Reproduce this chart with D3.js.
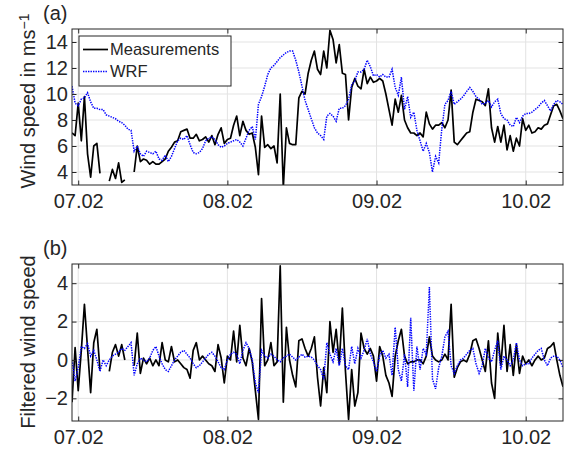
<!DOCTYPE html>
<html lang="en">
<head>
<meta charset="UTF-8">
<title>Wind speed: measurements vs WRF</title>
<script src="https://d3js.org/d3.v7.min.js"></script>
<style>
  body { margin: 0; background: #fff; }
  svg text { font-family: "Liberation Sans", Arial, sans-serif; fill: #262626; }
  .grid line { stroke: #e3e3e3; stroke-width: 1; }
  .tick line { stroke: #262626; }
  .meas { fill: none; stroke: #000; stroke-width: 1.7; stroke-linejoin: round; }
  .wrf { fill: none; stroke: #0000ff; stroke-width: 1.5; stroke-dasharray: 1.4 1.1; }
</style>
</head>
<body>
<svg width="577" height="449"></svg>
<script>
// half-hourly samples, first one at 06.02 23:00
const startTime = new Date(2015, 1, 6, 23, 0);
const stepMinutes = 30;
const endTime = new Date(2015, 1, 10, 6, 0);
const dayTicks = [new Date(2015, 1, 7), new Date(2015, 1, 8), new Date(2015, 1, 9), new Date(2015, 1, 10)];

// (a) wind speed in m/s
const measA = [
  7.0, 6.8, 9.3, 6.4, 9.8, 5.4, 3.6, 6.0, 6.2, 3.9,
  null, null, 3.3, 4.2, 3.5, 4.7, 3.2, 3.4, null, null,
  4.0, 6.0, 4.8, 5.0, 4.9, 4.6, 4.8, 4.6, 4.6, 4.8,
  5.0, 5.6, 5.9, 6.3, 6.4, 7.1, 7.2, 7.3, 6.6, 6.6,
  6.9, 6.4, 6.5, 6.7, 6.3, 6.8, 6.1, 6.9, 7.4, 6.2,
  6.5, 6.6, 7.6, 8.3, 6.8, 7.9, 7.2, 6.9, 7.0, 5.9,
  3.8, 8.3, 5.9, 6.1, 5.8, 6.0, 4.7, 10.0, 2.8, 7.4,
  6.2, 6.1, 6.1, 9.7, 10.2, 10.0, 11.6, 12.6, 13.3, 11.9,
  11.5, 13.3, 12.0, 14.9, 14.2, 12.4, 13.8, 11.6, 11.5, 8.0,
  10.5, 11.2, 10.6, 10.4, 11.9, 10.8, 11.3, 10.9, 11.0, 11.2,
  11.0, 10.0, 8.8, 7.6, 9.6, 8.6, 9.9, 8.0, 7.4, 7.0,
  7.0, 6.8, 7.0, 6.7, 8.6, 7.7, 7.3, 7.6, 7.6, 7.8,
  7.4, 8.0, 10.3, 6.3, 6.1, 6.4, 6.7, 7.0, 7.1, 8.6,
  9.6, 9.5, 9.4, 9.1, 10.4, 7.4, 6.3, 7.5, 6.3, 7.6,
  5.7, 6.8, 5.6, 6.6, 6.0, 8.1, 7.2, 7.6, 7.0, 7.1,
  7.4, 7.3, 7.6, 7.7, 8.4, 9.1, 9.2, 8.7, 8.1
];
const wrfA = [
  10.6, 9.3, 9.1, 9.6, 9.7, 10.1, 9.4, 8.9, 8.9, 8.8,
  8.8, 8.4, 8.3, 8.2, 8.1, 7.9, 7.8, 7.6, 7.3, 7.2,
  5.6, 6.0, 5.4, 5.2, 5.6, 5.5, 5.4, 5.6, 5.0, 4.9,
  5.3, 4.8, 5.2, 5.8, 6.4, 6.6, 6.5, 6.8, 6.1, 5.5,
  5.4, 5.5, 5.8, 6.4, 6.6, 6.7, 6.5, 6.1, 5.9, 6.0,
  6.2, 6.3, 6.4, 6.5, 6.3, 6.0, 6.6, 7.2, 7.5, 6.5,
  9.2, 9.8, 10.6, 11.5, 12.0, 12.2, 12.5, 12.8, 13.0, 13.2,
  13.3, 13.3, 12.6, 11.7, 10.6, 9.5, 8.8, 8.1, 7.4, 7.0,
  6.8, 6.5, 8.3, 8.5, 8.3, 7.9, 8.9, 8.9, 9.1, 9.6,
  10.7, 11.0, 11.7, 11.7, 11.9, 12.6, 12.1, 11.4, 11.5, 11.3,
  11.5, 11.3, 11.3, 11.9, 10.5, 9.9, 11.3, 8.8, 9.8, 8.2,
  8.6, 7.2, 6.4, 5.6, 6.2, 5.5, 4.0, 5.2, 4.7, 7.3,
  9.2, 9.5, 10.2, 9.2, 9.4, 9.6, 9.85, 10.2, 10.5, 10.2,
  9.8, 9.6, 9.2, 9.3, 9.5, 9.0, 9.4, 9.6, 8.5, 8.1,
  8.0, 7.6, 7.5, 8.2, 7.8, 8.3, 8.5, 8.5, 8.6, 8.8,
  9.0, 9.3, 9.5, 9.1, 8.7, 9.2, 9.5, 9.4, 9.2
];

// (b) filtered wind speed
const measB = [
  -2.2, 0.65, -1.6, 0.5, 2.9, 0.6, -1.7, 0.9, 1.6, -0.5,
  null, null, -0.6, 0.4, 0.8, 0.2, 0.8, 0.0, null, null,
  -0.3, 1.4, -0.7, 0.1, -0.2, 0.1, -0.3, 0.0, -0.3, 0.9,
  0.0, -0.1, 0.7, -0.1, 0.0, -0.2, -0.4, -0.5, -0.95, 0.5,
  0.9, 0.0, 0.2, 0.0, -0.2, -0.3, -0.6, 0.8, 0.1, -1.2,
  0.2, 0.0, 1.5, -0.1, 1.8, 0.1, -0.3, 0.6, -0.1, -1.6,
  -3.1, 3.2, -0.3, 0.0, 0.9, -0.3, -0.1, 4.9, -2.2, 1.7,
  0.0, -0.8, -1.4, 1.0, 1.1, 0.6, 0.2, 0.6, 1.2, -0.9,
  -2.4, -0.4, -1.7, 2.0, 0.4, 1.6, -0.2, 2.7, -0.6, -3.1,
  -0.5, -2.4, -1.7, 1.4, 0.6, 0.3, 0.6, 0.2, -1.1, 0.7,
  0.2, -0.8, -1.2, -1.9, 0.2, 1.0, 1.6, 0.2, -0.2, -0.1,
  -0.1, 0.0, 0.0, -0.2, 0.2, 1.2, 0.2, 0.0, -0.1, 0.0,
  0.3, 0.0, 2.9, -0.9, -0.4, -0.1, 0.0, -0.1, 0.3, 1.0,
  1.1, 0.6, 0.0, -0.6, 1.0, -1.2, -2.0, 1.4, -0.3, 1.8,
  -0.6, 0.8, -0.8, 0.8, -0.7, 0.2, -0.2, 0.0, -0.3, 0.0,
  0.2, 0.0, 0.1, 0.6, 0.7, 0.9, 0.0, -0.8, -1.4
];
const wrfB = [
  0.0, -1.1, -0.4, 0.7, 0.6, 0.85, 0.2, 0.5, 0.0, -0.6,
  0.0, -0.3, 0.0, 0.2, 0.3, 0.4, 0.6, 0.5, 0.7, 0.9,
  -0.8, -0.2, 0.1, 0.0, -0.1, 0.1, 0.5, 0.7, 0.2, -0.2,
  -0.5, -0.6, -0.3, 0.0, 0.2, 0.4, 0.5, 0.3, 0.1, -0.2,
  -0.4, -0.3, -0.1, 0.1, 0.3, 0.4, 0.2, -0.1, -0.4, -0.5,
  0.0, 0.3, 0.4, 0.3, -0.2, 0.5, 0.9, 0.6, 0.0, -1.2,
  -1.7, 0.5, 0.2, 0.1, 0.3, 0.2, 0.0, -0.1, 0.1, 0.2,
  0.3, 0.15, 0.0, 0.15, 0.3, 0.15, 0.2, 0.15, 0.0, -0.3,
  -0.5, -1.0, 0.9, 0.3, -0.1, 0.6, -0.3, 0.6, -0.3, -0.5,
  0.7, -0.2, 0.6, 0.1, 0.5, 1.1, 0.3, -0.1, -0.6, 0.2,
  0.5, 0.1, 0.3, -0.8, 1.7, -0.5, -1.1, 0.3, -1.4, 2.2,
  -1.6, 0.7, -0.5, 0.6, 0.3, 3.8, -1.0, -1.5, -0.4, 0.2,
  1.2, 1.5, -0.3, -0.7, -0.3, 0.0, 0.1, 0.3, 0.5, 0.6,
  -0.2, -0.7, -0.3, 0.6, 0.1, -0.1, 0.5, 1.0, -0.5, 0.2,
  0.0, -0.3, 0.0, 0.9, 0.0, -0.3, -0.2, -0.2, 0.1, 0.3,
  0.5, 0.6, 0.0, -0.3, 0.1, 0.2, 0.2, 0.0, -0.4
];

const yTicksA = [4, 6, 8, 10, 12, 14];
const yTicksB = [-2, 0, 2, 4];
const legendLabels = ["Measurements", "WRF"];

const svg = d3.select("svg");
const left = 72, right = 563;

const x = d3.scaleTime().domain([startTime, endTime]).range([left, right]);
const timeOf = i => d3.timeMinute.offset(startTime, i * stepMinutes);

function drawPanel(cfg) {
    const y = d3.scaleLinear().domain(cfg.domain).range([cfg.bottom, cfg.top]);
    const g = svg.append("g");

    // grid
    const grid = g.append("g").attr("class", "grid");
    grid.selectAll(".gx").data(dayTicks).join("line")
        .attr("x1", d => x(d)).attr("x2", d => x(d))
        .attr("y1", cfg.top).attr("y2", cfg.bottom);
    grid.selectAll(".gy").data(cfg.ticks).join("line")
        .attr("x1", left).attr("x2", right)
        .attr("y1", d => y(d)).attr("y2", d => y(d));

    // clipped lines
    g.append("clipPath").attr("id", cfg.id)
        .append("rect").attr("x", left).attr("y", cfg.top)
        .attr("width", right - left).attr("height", cfg.bottom - cfg.top);

    const line = d3.line()
        .defined(d => d != null)
        .x((d, i) => x(timeOf(i)))
        .y(d => y(d));

    const lines = g.append("g").attr("clip-path", `url(#${cfg.id})`);
    lines.append("path").attr("class", "meas").attr("d", line(cfg.meas));
    lines.append("path").attr("class", "wrf").attr("d", line(cfg.wrf));

    // axes, ticks pointing inwards on all four sides
    const fmt = d3.timeFormat("%d.%m");
    g.append("g").attr("transform", `translate(0,${cfg.bottom})`)
        .call(d3.axisBottom(x).tickValues(dayTicks).tickFormat(fmt).tickSizeInner(-4.5).tickSizeOuter(0).tickPadding(9))
        .call(a => a.select(".domain").remove())
        .selectAll("text").attr("font-size", 20).attr("fill", "#262626");
    g.append("g").attr("transform", `translate(0,${cfg.top})`)
        .call(d3.axisTop(x).tickValues(dayTicks).tickFormat("").tickSizeInner(-4.5).tickSizeOuter(0))
        .call(a => a.select(".domain").remove());
    g.append("g").attr("transform", `translate(${left},0)`)
        .call(d3.axisLeft(y).tickValues(cfg.ticks).tickSizeInner(-4.5).tickSizeOuter(0).tickPadding(4))
        .call(a => a.select(".domain").remove())
        .selectAll("text").attr("font-size", 20).attr("fill", "#262626");
    g.append("g").attr("transform", `translate(${right},0)`)
        .call(d3.axisRight(y).tickValues(cfg.ticks).tickFormat("").tickSizeInner(-4.5).tickSizeOuter(0))
        .call(a => a.select(".domain").remove());

    g.append("rect")
        .attr("x", left).attr("y", cfg.top)
        .attr("width", right - left).attr("height", cfg.bottom - cfg.top)
        .attr("fill", "none").attr("stroke", "#262626").attr("stroke-width", 1);

    // panel letter
    svg.append("text").attr("x", 43).attr("y", cfg.top - 9)
        .attr("font-size", 20).text(cfg.letter);

    return y;
}

drawPanel({ id: "clipA", top: 29, bottom: 185, domain: [3, 15], ticks: yTicksA, meas: measA, wrf: wrfA, letter: "(a)" });
drawPanel({ id: "clipB", top: 264, bottom: 421, domain: [-3.18, 5], ticks: yTicksB, meas: measB, wrf: wrfB, letter: "(b)" });

// y axis titles
const ya = svg.append("text").attr("transform", "translate(35,101) rotate(-90)")
    .attr("text-anchor", "middle").attr("font-size", 20);
ya.append("tspan").text("Wind speed in ms");
ya.append("tspan").attr("dy", "-0.45em").attr("font-size", 14).text("\u22121");

svg.append("text").attr("transform", "translate(35,342) rotate(-90)")
    .attr("text-anchor", "middle").attr("font-size", 20).text("Filtered wind speed");

// legend
const lg = svg.append("g");
lg.append("rect").attr("x", 79).attr("y", 36).attr("width", 152).attr("height", 50)
    .attr("fill", "#fff").attr("stroke", "#262626").attr("stroke-width", 1);
const items = lg.selectAll(".item").data(legendLabels).join("g")
    .attr("transform", (d, i) => `translate(0,${49.5 + i * 22})`);
items.append("line").attr("x1", 83).attr("x2", 108).attr("y1", 0).attr("y2", 0)
    .attr("class", (d, i) => i === 0 ? "meas" : "wrf");
items.append("text").attr("x", 110).attr("y", 5.5).attr("font-size", 16.5).text(d => d);
</script>
</body>
</html>
